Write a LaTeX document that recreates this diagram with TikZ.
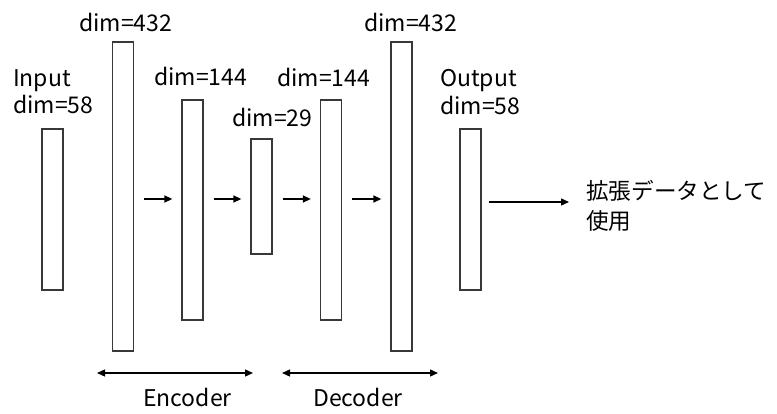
\documentclass[tikz,border=0pt]{standalone}
\usepackage{fontspec}
\setmainfont{Noto Sans CJK JP}
\usetikzlibrary{arrows.meta}
\begin{document}
\begin{tikzpicture}[x=1pt,y=-1pt,
  layer/.style={draw=black!78,line width=1.3pt,fill=white,minimum width=21pt,inner sep=0pt},
  lbl/.style={anchor=base west,inner sep=0pt,font=\fontsize{23}{27}\selectfont},
  jp/.style={anchor=base west,inner sep=0pt,font=\fontsize{22.6}{30}\selectfont},
  arr/.style={line width=1.3pt,-{Triangle[length=8pt,width=7pt]}},
  darr/.style={line width=1.3pt,{Triangle[length=8pt,width=7pt]}-{Triangle[length=8pt,width=7pt]}}]
\useasboundingbox (0,0) rectangle (777,414);

% layer blocks
\node[layer,minimum height=161pt] (r1) at (52.5,209.5) {};
\node[layer,minimum height=309pt] (r2) at (123,196.5) {};
\node[layer,minimum height=220pt] (r3) at (192.5,210) {};
\node[layer,minimum height=115pt] (r4) at (261.5,196.5) {};
\node[layer,minimum height=220pt] (r5) at (331,210) {};
\node[layer,minimum height=309pt] (r6) at (401.5,196.5) {};
\node[layer,minimum height=161pt] (r7) at (470.5,209.5) {};

% dimension labels
\node[lbl] (inA) at (13,87) {Input};
\node[lbl] (inB) at (13,114) {dim=58};
\node[lbl] (d2) at (79,32) {dim=432};
\node[lbl] (d3) at (154,86) {dim=144};
\node[lbl] (d4) at (232,127) {dim=29};
\node[lbl] (d5) at (277,87) {dim=144};
\node[lbl] (d6) at (364,32) {dim=432};
\node[lbl] (outA) at (440,87) {Output};
\node[lbl] (outB) at (440,115) {dim=58};

% flow arrows between blocks
\coordinate (fy) at (0,199);
\draw[arr,shorten <=10pt,shorten >=9pt] (r2.east|-fy) -- (r3.west|-fy);
\draw[arr,shorten <=10pt,shorten >=9pt] (r3.east|-fy) -- (r4.west|-fy);
\draw[arr,shorten <=10pt,shorten >=9pt] (r4.east|-fy) -- (r5.west|-fy);
\draw[arr,shorten <=10pt,shorten >=9pt] (r5.east|-fy) -- (r6.west|-fy);

% output usage
\node[jp] (use1) at (586,200) {拡張データとして};
\node[jp] (use2) at (586,230) {使用};
\coordinate (oy) at (0,202);
\draw[arr,shorten <=7pt,shorten >=17pt] (r7.east|-oy) -- (use1.west|-oy);

% encoder / decoder spans
\coordinate (e1) at (97,373);
\coordinate (e2) at (253,373);
\coordinate (c1) at (282,373);
\coordinate (c2) at (438,373);
\draw[darr] (e1) -- (e2);
\draw[darr] (c1) -- (c2);
\node[lbl] (enc) at (143,406) {Encoder};
\node[lbl] (dec) at (313,406) {Decoder};
\end{tikzpicture}
\end{document}
